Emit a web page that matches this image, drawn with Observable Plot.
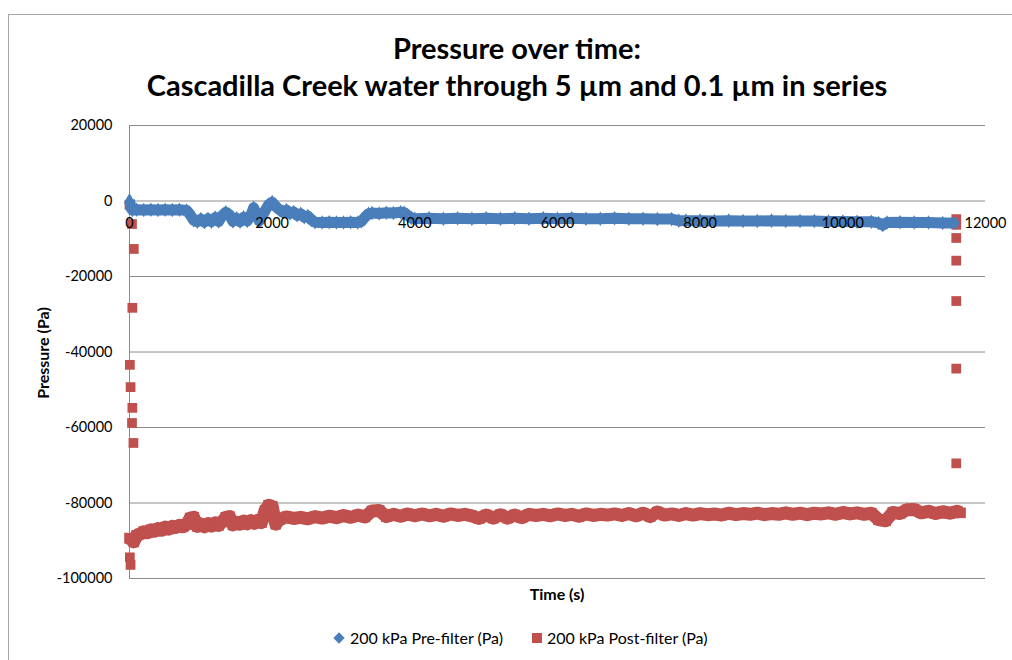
<!DOCTYPE html>
<html><head><meta charset="utf-8">
<script src="https://cdn.jsdelivr.net/npm/d3@7"></script>
<script src="https://cdn.jsdelivr.net/npm/@observablehq/plot@0.6"></script>
<style>
body{margin:0;background:#fff;font-family:Lato,"Open Sans",sans-serif;color:#000;}
#wrap{position:relative;width:1012px;height:660px;overflow:hidden;background:#fff;}
#frame{position:absolute;left:8px;top:14px;width:1010px;height:650px;border:1px solid #a6a6a6;box-sizing:border-box;}
.title{position:absolute;left:0;width:1034px;text-align:center;font-weight:bold;font-size:29px;line-height:34px;white-space:nowrap;}
#plot{position:absolute;left:0;top:100px;}
#ylab{position:absolute;left:42px;top:353px;transform:translate(-50%,-50%) rotate(-90deg);font-weight:bold;font-size:16px;white-space:nowrap;}
#xlab{position:absolute;left:557px;top:593px;transform:translate(-50%,-50%);font-weight:bold;font-size:16px;white-space:nowrap;}
#legend{position:absolute;top:628px;left:0;font-size:16px;line-height:20px;white-space:nowrap;}
.item{position:absolute;top:0;}
.sym{position:absolute;}
</style></head>
<body>
<div id="wrap">
  <div id="frame"></div>
  <div class="title" style="top:31px">Pressure over time:</div>
  <div class="title" style="top:68px">Cascadilla Creek water through 5 µm and 0.1 µm in series</div>
  <div id="plot"></div>
  <div id="ylab">Pressure (Pa)</div>
  <div id="xlab">Time (s)</div>
  <div id="legend">
    <div class="item" style="left:335px"><span class="sym" style="left:0;width:8px;height:8px;background:#4a7ebb;transform:rotate(45deg);top:6px"></span><span style="position:absolute;left:15px">200 kPa Pre-filter (Pa)</span></div>
    <div class="item" style="left:532px"><span class="sym" style="left:0;width:10px;height:10px;background:#c0504d;top:5px"></span><span style="position:absolute;left:15px">200 kPa Post-filter (Pa)</span></div>
  </div>
</div>
<script>
// Tick values
const xTicks = [0, 2000, 4000, 6000, 8000, 10000, 12000];
const yTicks = [20000, 0, -20000, -40000, -60000, -80000, -100000];

// 200 kPa Pre-filter (Pa): time (s) and pressure (Pa)
const preTime = [0,20,40,100,200,300,400,500,600,700,800,850,900,950,1000,1050,1100,1150,1200,1250,1300,1350,1400,1450,1500,1550,1600,1650,1700,1740,1780,1820,1860,1900,1950,2000,2050,2100,2150,2200,2250,2300,2350,2400,2450,2500,2550,2600,2700,2800,2900,3000,3100,3200,3250,3300,3350,3400,3500,3600,3700,3800,3850,3900,3950,4000,4200,4400,4600,4800,5000,5200,5400,5600,5800,6000,6200,6400,6600,6800,7000,7200,7400,7600,7700,7800,8000,8200,8400,8600,8800,9000,9200,9400,9600,9800,10000,10200,10400,10500,10560,10620,10800,11000,11200,11400,11580];
const prePa = [200,-1800,-2400,-2300,-2400,-2300,-2400,-2300,-2400,-2300,-2500,-3600,-5100,-5500,-4800,-5600,-4700,-5500,-4400,-5400,-3800,-3000,-3600,-5400,-4600,-5500,-4300,-5300,-3900,-1800,-3500,-5300,-4000,-2600,-1000,-300,-1500,-2200,-3000,-2400,-3300,-2900,-3800,-3400,-4300,-4000,-5000,-5600,-5700,-5600,-5700,-5700,-5600,-5700,-5400,-4300,-3400,-3200,-3300,-3100,-3200,-3000,-3100,-3800,-4500,-4700,-4600,-4700,-4600,-4700,-4600,-4700,-4600,-4700,-4600,-4700,-4600,-4700,-4700,-4600,-4700,-4700,-4800,-4800,-5200,-5200,-5200,-5300,-5200,-5300,-5300,-5200,-5300,-5300,-5300,-5400,-5400,-5500,-5500,-5800,-6400,-5700,-5600,-5700,-5700,-5800,-5800];

// 200 kPa Post-filter (Pa): steady band
const postTime = [0,60,100,150,200,250,300,350,400,450,500,550,600,650,700,750,800,850,900,950,1000,1050,1100,1150,1200,1250,1300,1350,1400,1450,1500,1550,1600,1650,1700,1750,1800,1850,1900,1950,2000,2050,2100,2200,2300,2400,2500,2600,2700,2800,2900,3000,3100,3200,3300,3400,3500,3600,3700,3800,3900,4000,4100,4200,4300,4400,4500,4600,4700,4800,4900,5000,5100,5200,5300,5400,5500,5600,5700,5800,5900,6000,6100,6200,6300,6400,6500,6600,6700,6800,6900,7000,7100,7200,7300,7400,7500,7600,7700,7800,7900,8000,8100,8200,8300,8400,8500,8600,8700,8800,8900,9000,9100,9200,9300,9400,9500,9600,9700,9800,9900,10000,10100,10200,10300,10400,10500,10600,10700,10800,10900,11000,11100,11200,11300,11400,11500,11600,11650];
const postPa = [-89300,-90300,-88600,-88200,-87600,-87900,-87100,-87500,-86800,-87200,-86400,-86900,-86200,-86500,-85900,-86300,-85700,-84000,-83800,-86200,-85600,-86300,-85500,-86100,-85300,-85900,-85000,-83800,-83600,-85800,-85100,-85600,-84800,-85500,-84700,-85400,-84600,-85200,-82000,-80600,-80900,-85600,-84400,-83700,-84100,-83800,-84200,-83600,-84000,-83500,-83900,-83300,-83800,-83200,-83700,-82100,-82000,-83600,-83000,-83500,-82900,-83400,-82900,-83400,-83000,-83500,-82900,-83300,-83000,-83400,-84100,-83200,-84000,-83100,-84000,-83200,-83900,-83000,-83300,-83000,-83400,-82900,-83300,-83000,-83500,-82900,-83300,-83000,-83200,-82900,-83300,-82800,-83400,-82700,-83600,-82400,-83200,-82900,-83300,-82800,-83200,-82800,-83100,-82900,-83200,-82700,-83100,-82800,-83000,-82700,-83100,-82800,-83000,-82600,-83000,-82700,-83100,-82700,-82900,-82600,-83000,-82500,-82900,-82600,-83000,-82700,-84400,-84700,-82500,-82800,-81800,-81700,-82600,-82200,-82800,-82300,-82700,-82200,-82600];

// Post-filter points during start-up and shut-down transients
const postEdgeTime = [0,35,60,40,5,15,40,35,55,5,5,15,11590,11590,11590,11590,11590,11590,11590];
const postEdgePa = [-1000,-6100,-12700,-28300,-43400,-49300,-54800,-58800,-64100,-89500,-94400,-96400,-4800,-6300,-9800,-15800,-26500,-44400,-69500];

const BLUE = "#4a7ebb", RED = "#c0504d", GRID = "#8c8c8c";
const pre = preTime.map((t, i) => ({t, v: prePa[i]}));
const post = postTime.map((t, i) => ({t, v: postPa[i]}));
const postEdge = postEdgeTime.map((t, i) => ({t, v: postEdgePa[i]}));

const chart = Plot.plot({
  width: 1012,
  height: 490,
  marginLeft: 129,
  marginRight: 27,
  marginTop: 25,
  marginBottom: 12,
  style: {fontFamily: "Lato, 'Open Sans', sans-serif", fontSize: "14.5px", color: "#000", background: "transparent", overflow: "visible"},
  x: {domain: [0, 12000], axis: null},
  y: {domain: [-100000, 20000], axis: null},
  marks: [
    Plot.ruleY(yTicks, {stroke: GRID, strokeWidth: 1}),
    Plot.ruleX([0], {stroke: GRID, strokeWidth: 1}),
    Plot.axisY({ticks: yTicks, label: null, tickSize: 0, tickPadding: 17, tickFormat: d => String(d), fontSize: 14.5, fill: "#000"}),
    Plot.line(post, {x: "t", y: "v", stroke: RED, strokeWidth: 13, strokeLinejoin: "round", strokeLinecap: "butt"}),
    Plot.dot(post, {x: "t", y: "v", symbol: "square", r: 6, fill: RED, stroke: "none"}),
    Plot.dot(postEdge, {x: "t", y: "v", symbol: "square", r: 5.5, fill: RED, stroke: "none"}),
    Plot.line(pre, {x: "t", y: "v", stroke: BLUE, strokeWidth: 11, strokeLinejoin: "round", strokeLinecap: "butt"}),
    Plot.dot(pre, {x: "t", y: "v", symbol: "diamond", r: 4.4, fill: BLUE, stroke: "none"}),
    Plot.text(xTicks, {x: d => d, y: 0, text: d => String(d), dy: 22, fontSize: 14.5, fill: "#000"})
  ]
});
document.getElementById("plot").appendChild(chart);
</script>
</body></html>
